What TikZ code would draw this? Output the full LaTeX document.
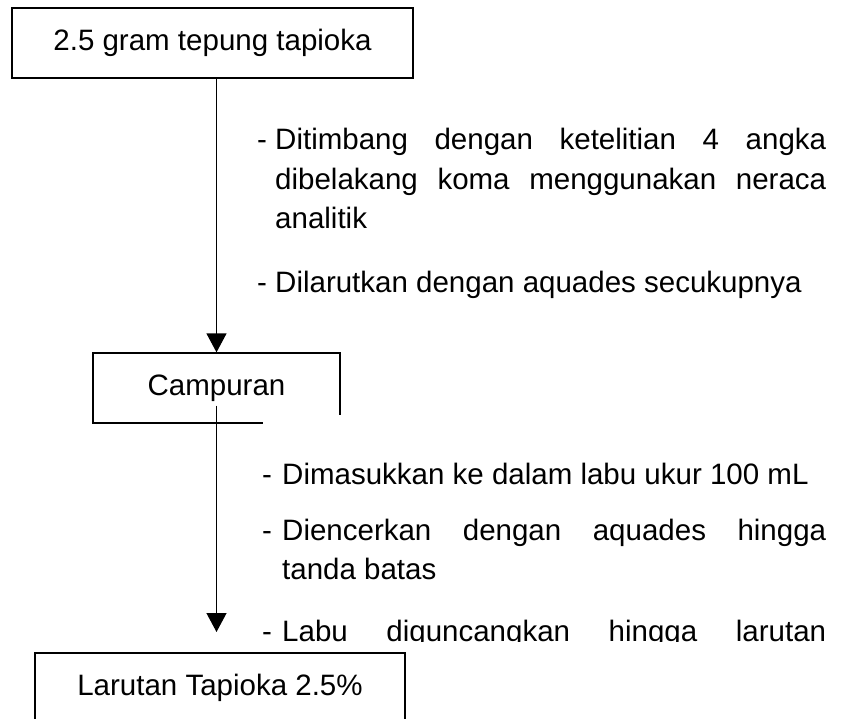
\documentclass[tikz,border=0pt]{standalone}
\usepackage{fontspec}
\setmainfont{Liberation Sans}
\usetikzlibrary{arrows.meta}
\begin{document}
\begin{tikzpicture}[x=1pt,y=-1pt,
  box/.style={draw, line width=1.3pt, inner sep=0pt, font=\fontsize{29.5}{36}\selectfont},
  conn/.style={line width=1.3pt, -{Triangle[width=20pt,length=19pt]}},
  txt/.style={anchor=base west, inner sep=0pt, text width=#1, align=justify, font=\fontsize{29.5}{39.5}\selectfont},
  bulletdash/.style={anchor=base west, inner sep=0pt, font=\fontsize{29.5}{39.5}\selectfont}]
\useasboundingbox (0,0) rectangle (843,719);
\clip (0,0) rectangle (843,719);
% boxes
\node[box, minimum width=401pt, minimum height=70pt] (top) at (212.5,43) {2.5 gram tepung tapioka};
\node[box, minimum width=247pt, minimum height=70pt] (camp) at (216.5,388) {\raisebox{5pt}{Campuran}};
\node[box, minimum width=370pt, minimum height=70pt] (bot) at (220,688) {Larutan Tapioka 2.5\%};
% connectors
\coordinate (tip2) at (216.5,632);
\draw[conn] (top.south -| camp.north) -- (camp.north);
\draw[conn] ([yshift=18pt]camp.south) -- (tip2);
% first group of notes
\node[bulletdash] (d1) at (257,150) {-};
\node[txt=551pt] (t1) at (275,150) {Ditimbang dengan ketelitian 4 angka\linebreak dibelakang koma menggunakan neraca\linebreak analitik};
\node[bulletdash] (d2) at (257,293) {-};
\node[txt=551pt] (t2) at (275,293) {Dilarutkan dengan aquades secukupnya};
% second group of notes (white frame over the box corner)
\begin{scope}
\clip (263,415) rectangle (843,641);
\fill[white] (263,415) rectangle (843,641);
\node[bulletdash] (d3) at (262,484) {-};
\node[txt=544pt] (t3) at (282,484) {Dimasukkan ke dalam labu ukur 100 mL};
\node[bulletdash] (d4) at (262,540) {-};
\node[txt=544pt] (t4) at (282,540) {Diencerkan dengan aquades hingga\linebreak tanda batas};
\node[bulletdash] (d5) at (262,641) {-};
\node[txt=544pt] (t5) at (282,641) {\makebox[544pt][s]{Labu diguncangkan hingga larutan}};
\end{scope}
\end{tikzpicture}
\end{document}
